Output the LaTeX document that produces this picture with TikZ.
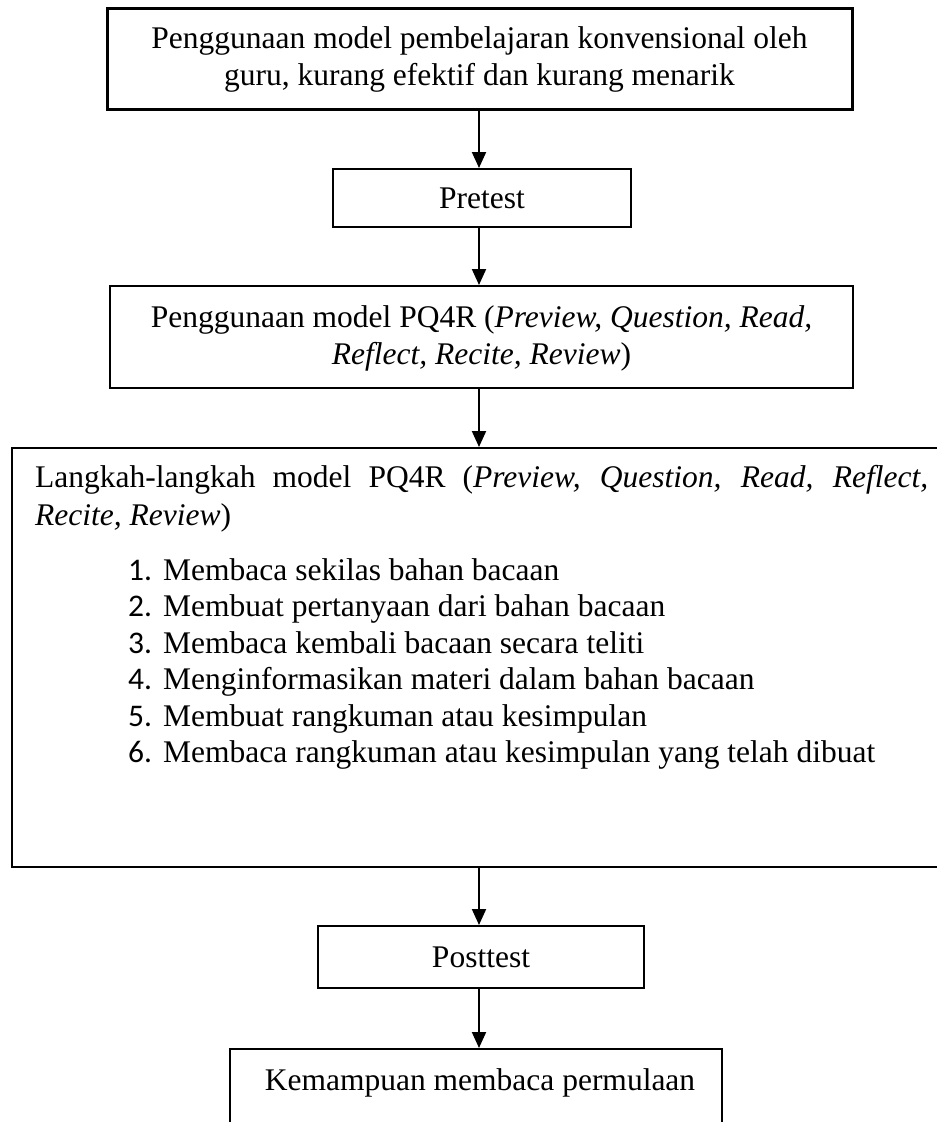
\documentclass[tikz,border=0pt]{standalone}
\usepackage{fontspec}
\setmainfont{Liberation Serif}
\newfontfamily\numfont{Carlito}
\usetikzlibrary{arrows.meta}
\begin{document}
\begin{tikzpicture}[x=1pt,y=-1pt,
  box/.style={draw, line width=2pt, inner sep=0pt},
  arr/.style={line width=2pt, -{Triangle[length=16pt,width=14pt]}},
  txt/.style={font=\fontsize{31.5}{37}\selectfont, inner sep=0pt, align=center},
  itemtxt/.style={font=\fontsize{31.5}{37}\selectfont, inner sep=0pt, anchor=base west},
  numtxt/.style={font=\numfont\fontsize{31.5}{37}\selectfont, inner sep=0pt, anchor=base west}]
\useasboundingbox (0,0) rectangle (937,1122);

% boxes
\node[box, line width=3pt, minimum width=745pt, minimum height=101pt] (top) at (479.5,58.5) {};
\node[txt] (toptxt) at (479.5,59) {Penggunaan model pembelajaran konvensional oleh\\guru, kurang efektif dan kurang menarik};

\node[box, minimum width=298pt, minimum height=58pt] (pre) at (482,198) {};
\node[txt] (pretxt) at (482,198) {Pretest};

\node[box, minimum width=743pt, minimum height=102pt] (pq) at (481.5,337) {};
\node[txt] (pqtxt) at (481.5,338) {Penggunaan model PQ4R (\textit{Preview, Question, Read,}\\\textit{Reflect, Recite, Review})};

\node[box, minimum width=988pt, minimum height=419pt] (steps) at (506,657.5) {};
\node[inner sep=0pt, anchor=base west, text width=893pt, align=justify,
      font=\fontsize{31.5}{38}\selectfont] (head) at (35,487)
  {\hyphenpenalty=10000 Langkah-langkah model PQ4R (\textit{Preview, Question, Read, Reflect,}\linebreak \textit{Recite, Review})};

\foreach \i/\t [count=\k] in {1/Membaca sekilas bahan bacaan,
  2/Membuat pertanyaan dari bahan bacaan,
  3/Membaca kembali bacaan secara teliti,
  4/Menginformasikan materi dalam bahan bacaan,
  5/Membuat rangkuman atau kesimpulan,
  6/Membaca rangkuman atau kesimpulan yang telah dibuat}{
  \node[numtxt] (n\k) at (128,{580+36.5*(\k-1)}) {\i.};
  \node[itemtxt] (it\k) at (163,{580+36.5*(\k-1)}) {\t};
}

\node[box, minimum width=326pt, minimum height=62pt] (post) at (481,957) {};
\node[txt] (posttxt) at (481,957) {Posttest};

\node[box, minimum width=492pt, minimum height=111pt] (final) at (476,1104.5) {};
\node[txt, anchor=base] (finaltxt) at (480,1090) {Kemampuan membaca permulaan};

% arrows
\draw[arr] (479,109) coordinate (a1) -- (a1 |- pre.north);
\draw[arr] (479,227) coordinate (a2) -- (a2 |- pq.north);
\draw[arr] (479,388) coordinate (a3) -- (a3 |- steps.north);
\draw[arr] (479,867) coordinate (a4) -- (a4 |- post.north);
\draw[arr] (479,988) coordinate (a5) -- (a5 |- final.north);
\end{tikzpicture}
\end{document}
